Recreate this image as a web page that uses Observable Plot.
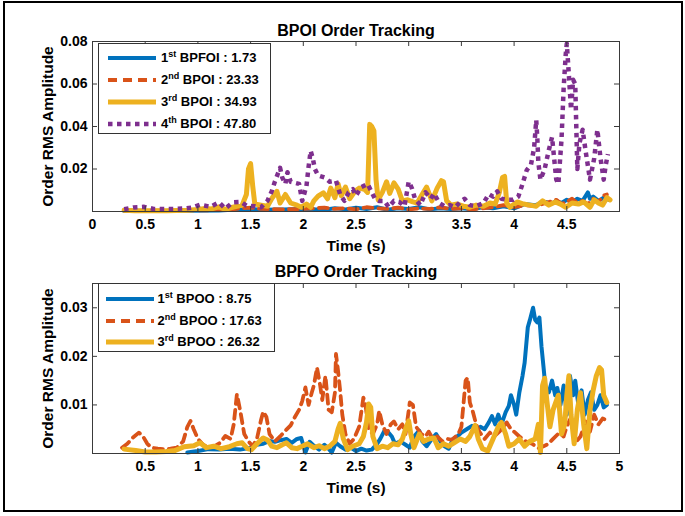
<!DOCTYPE html>
<html>
<head>
<meta charset="utf-8">
<script src="https://cdn.jsdelivr.net/npm/d3@7"></script>
<script src="https://cdn.jsdelivr.net/npm/@observablehq/plot@0.6"></script>
<style>
  body { margin: 0; background: #fff; }
  #wrap { position: relative; width: 685px; height: 516px; background: #fff; overflow: hidden;
          font-family: 'Liberation Sans', Arial, Helvetica, sans-serif; font-weight: bold; color: #000; }
  .legend { position: absolute; background: #fff; border: 1px solid #333; box-sizing: border-box; }
  .row { position: absolute; left: 0; height: 22px; white-space: nowrap; }
  .row svg { position: absolute; top: 0; }
  .row span { position: absolute; top: 3px; font-size: 13px; line-height: 16px; }
  .row sup { font-size: 9px; vertical-align: 5px; line-height: 0; }
  #border { position: absolute; left: 3px; top: 1px; width: 680px; height: 511px; border: 2px solid #000; box-sizing: border-box; }
</style>
</head>
<body>
<div id="wrap"><div id="border"></div></div>
<script>
// ---------- Data (time in s, order RMS amplitude) ----------
// Top panel: BPOI order tracking
const bpoi1 = [[0.30,0.0003],[0.6,0.0002],[0.9,0.0003],[1.2,0.0005],[1.4,0.0010],[1.5,0.0012],[1.6,0.0008],[1.8,0.0010],[2.0,0.0012],[2.2,0.0008],[2.3,0.0015],[2.4,0.0010],[2.5,0.0018],[2.6,0.0012],[2.7,0.0020],[2.8,0.0008],[2.9,0.0015],[3.0,0.0012],[3.1,0.0020],[3.2,0.0010],[3.3,0.0015],[3.4,0.0012],[3.5,0.0015],[3.6,0.0010],[3.7,0.0020],[3.8,0.0015],[3.9,0.0025],[4.0,0.0015],[4.1,0.0035],[4.2,0.0030],[4.3,0.0045],[4.35,0.0035],[4.4,0.0050],[4.45,0.0040],[4.5,0.0055],[4.55,0.0045],[4.6,0.0060],[4.65,0.0050],[4.7,0.0090],[4.72,0.0060],[4.75,0.0070],[4.8,0.0050],[4.85,0.0065],[4.9,0.0055]];
const bpoi2 = [[0.30,0.0004],[0.5,0.0003],[0.7,0.0004],[0.9,0.0005],[1.1,0.0006],[1.3,0.0008],[1.4,0.0015],[1.5,0.0018],[1.6,0.0012],[1.8,0.0010],[2.0,0.0012],[2.2,0.0018],[2.3,0.0012],[2.4,0.0015],[2.5,0.0010],[2.6,0.0020],[2.7,0.0015],[2.8,0.0012],[2.9,0.0018],[3.0,0.0010],[3.1,0.0015],[3.2,0.0012],[3.3,0.0020],[3.4,0.0012],[3.5,0.0015],[3.6,0.0010],[3.7,0.0015],[3.8,0.0020],[3.9,0.0030],[4.0,0.0020],[4.1,0.0030],[4.2,0.0025],[4.3,0.0040],[4.4,0.0055],[4.45,0.0035],[4.5,0.0045],[4.55,0.0060],[4.6,0.0040],[4.65,0.0050],[4.7,0.0035],[4.75,0.0060],[4.8,0.0045],[4.85,0.0075],[4.88,0.0080]];
const bpoi3 = [[0.30,0.0006],[0.40,0.0004],[0.50,0.0003],[0.60,0.0003],[0.70,0.0004],[0.80,0.0005],[0.90,0.0006],[1.00,0.0010],[1.07,0.0014],[1.13,0.0012],[1.20,0.0022],[1.26,0.0010],[1.33,0.0020],[1.42,0.0030],[1.46,0.0080],[1.48,0.0200],[1.50,0.0225],[1.52,0.0120],[1.54,0.0035],[1.60,0.0030],[1.66,0.0025],[1.70,0.0060],[1.75,0.0095],[1.78,0.0040],[1.83,0.0080],[1.88,0.0040],[1.94,0.0030],[1.98,0.0020],[2.03,0.0035],[2.07,0.0020],[2.10,0.0050],[2.14,0.0072],[2.19,0.0088],[2.23,0.0060],[2.26,0.0110],[2.30,0.0065],[2.33,0.0130],[2.36,0.0075],[2.40,0.0115],[2.44,0.0060],[2.49,0.0095],[2.53,0.0110],[2.58,0.0105],[2.61,0.0090],[2.63,0.0410],[2.65,0.0400],[2.67,0.0380],[2.69,0.0150],[2.71,0.0055],[2.75,0.0090],[2.79,0.0140],[2.82,0.0085],[2.86,0.0135],[2.90,0.0105],[2.94,0.0050],[2.99,0.0055],[3.04,0.0045],[3.08,0.0040],[3.12,0.0074],[3.17,0.0115],[3.22,0.0050],[3.27,0.0110],[3.31,0.0145],[3.33,0.0140],[3.36,0.0050],[3.40,0.0030],[3.46,0.0035],[3.52,0.0025],[3.58,0.0020],[3.64,0.0030],[3.71,0.0025],[3.77,0.0040],[3.82,0.0035],[3.86,0.0090],[3.89,0.0160],[3.91,0.0165],[3.93,0.0040],[3.96,0.0020],[4.03,0.0045],[4.09,0.0035],[4.15,0.0030],[4.21,0.0025],[4.27,0.0050],[4.33,0.0030],[4.39,0.0045],[4.44,0.0035],[4.49,0.0020],[4.55,0.0040],[4.61,0.0035],[4.66,0.0045],[4.72,0.0020],[4.76,0.0055],[4.80,0.0040],[4.84,0.0030],[4.88,0.0065],[4.91,0.0055]];
const bpoi4 = [[0.30,0.0011],[0.39,0.0019],[0.49,0.0022],[0.58,0.0012],[0.68,0.0012],[0.77,0.0012],[0.87,0.0014],[0.95,0.0019],[1.02,0.0032],[1.12,0.0022],[1.20,0.0043],[1.26,0.0014],[1.33,0.0043],[1.41,0.0045],[1.46,0.0028],[1.54,0.0025],[1.60,0.0020],[1.66,0.0050],[1.70,0.0095],[1.73,0.0140],[1.76,0.0180],[1.78,0.0205],[1.80,0.0160],[1.83,0.0130],[1.85,0.0185],[1.88,0.0140],[1.92,0.0135],[1.96,0.0130],[1.99,0.0050],[2.03,0.0120],[2.05,0.0210],[2.07,0.0285],[2.09,0.0250],[2.11,0.0200],[2.14,0.0170],[2.20,0.0160],[2.25,0.0140],[2.31,0.0145],[2.35,0.0080],[2.39,0.0050],[2.43,0.0090],[2.47,0.0105],[2.50,0.0075],[2.55,0.0115],[2.61,0.0130],[2.65,0.0090],[2.68,0.0060],[2.72,0.0050],[2.77,0.0050],[2.81,0.0020],[2.86,0.0050],[2.91,0.0045],[2.96,0.0025],[3.00,0.0140],[3.03,0.0110],[3.06,0.0060],[3.11,0.0030],[3.16,0.0090],[3.21,0.0060],[3.24,0.0085],[3.29,0.0040],[3.34,0.0025],[3.39,0.0030],[3.44,0.0020],[3.49,0.0045],[3.53,0.0060],[3.58,0.0030],[3.64,0.0025],[3.71,0.0040],[3.76,0.0082],[3.80,0.0070],[3.84,0.0095],[3.88,0.0060],[3.93,0.0055],[3.99,0.0055],[4.04,0.0070],[4.08,0.0130],[4.12,0.0195],[4.16,0.0220],[4.19,0.0300],[4.21,0.0430],[4.22,0.0350],[4.23,0.0230],[4.25,0.0150],[4.29,0.0200],[4.33,0.0290],[4.36,0.0350],[4.38,0.0250],[4.40,0.0150],[4.42,0.0130],[4.45,0.0340],[4.47,0.0580],[4.49,0.0740],[4.50,0.0790],[4.52,0.0640],[4.54,0.0480],[4.56,0.0620],[4.58,0.0600],[4.59,0.0400],[4.60,0.0200],[4.62,0.0320],[4.65,0.0385],[4.68,0.0280],[4.72,0.0150],[4.76,0.0250],[4.79,0.0385],[4.82,0.0250],[4.85,0.0150],[4.87,0.0220],[4.89,0.0270]];

// Bottom panel: BPFO order tracking
const bpoo1 = [[0.90,0.0002],[1.00,0.0005],[1.10,0.0009],[1.20,0.0008],[1.30,0.0010],[1.40,0.0008],[1.50,0.0012],[1.56,0.0018],[1.62,0.0020],[1.68,0.0026],[1.73,0.0024],[1.78,0.0027],[1.84,0.0030],[1.89,0.0022],[1.94,0.0030],[1.98,0.0032],[2.02,0.0002],[2.06,0.0024],[2.10,0.0016],[2.15,0.0008],[2.20,0.0018],[2.24,0.0010],[2.27,0.0002],[2.31,0.0022],[2.35,0.0015],[2.40,0.0008],[2.45,0.0012],[2.50,0.0005],[2.55,0.0010],[2.60,0.0006],[2.65,0.0008],[2.70,0.0020],[2.73,0.0030],[2.77,0.0047],[2.80,0.0045],[2.84,0.0035],[2.87,0.0020],[2.92,0.0025],[2.97,0.0018],[3.01,0.0012],[3.05,0.0035],[3.10,0.0047],[3.13,0.0025],[3.17,0.0015],[3.22,0.0030],[3.26,0.0040],[3.30,0.0025],[3.34,0.0015],[3.38,0.0010],[3.42,0.0030],[3.46,0.0035],[3.50,0.0043],[3.55,0.0050],[3.60,0.0057],[3.64,0.0048],[3.68,0.0055],[3.72,0.0050],[3.76,0.0064],[3.79,0.0077],[3.82,0.0060],[3.85,0.0080],[3.88,0.0060],[3.92,0.0085],[3.95,0.0098],[3.97,0.0120],[4.00,0.0100],[4.02,0.0080],[4.05,0.0126],[4.08,0.0160],[4.10,0.0187],[4.13,0.0260],[4.15,0.0275],[4.18,0.0300],[4.20,0.0275],[4.22,0.0270],[4.24,0.0280],[4.26,0.0220],[4.28,0.0176],[4.30,0.0130],[4.33,0.0126],[4.36,0.0150],[4.39,0.0120],[4.41,0.0135],[4.44,0.0100],[4.47,0.0140],[4.50,0.0080],[4.53,0.0160],[4.56,0.0120],[4.58,0.0150],[4.61,0.0100],[4.64,0.0130],[4.67,0.0080],[4.70,0.0110],[4.73,0.0126],[4.76,0.0090],[4.79,0.0100],[4.82,0.0120],[4.85,0.0095],[4.88,0.0100]];
const bpoo2 = [[0.28,0.0012],[0.33,0.0020],[0.38,0.0032],[0.44,0.0043],[0.48,0.0035],[0.52,0.0020],[0.56,0.0012],[0.62,0.0010],[0.68,0.0009],[0.74,0.0010],[0.80,0.0012],[0.86,0.0025],[0.90,0.0055],[0.93,0.0067],[0.96,0.0050],[1.00,0.0030],[1.05,0.0018],[1.10,0.0012],[1.16,0.0015],[1.21,0.0022],[1.26,0.0036],[1.31,0.0030],[1.34,0.0060],[1.37,0.0122],[1.40,0.0090],[1.44,0.0040],[1.48,0.0025],[1.52,0.0015],[1.56,0.0030],[1.60,0.0070],[1.62,0.0086],[1.65,0.0075],[1.68,0.0040],[1.73,0.0025],[1.78,0.0035],[1.83,0.0047],[1.88,0.0058],[1.92,0.0075],[1.96,0.0090],[1.99,0.0108],[2.02,0.0136],[2.05,0.0100],[2.08,0.0125],[2.10,0.0140],[2.13,0.0177],[2.16,0.0140],[2.18,0.0110],[2.21,0.0160],[2.24,0.0090],[2.27,0.0085],[2.30,0.0125],[2.31,0.0205],[2.33,0.0170],[2.35,0.0128],[2.37,0.0080],[2.40,0.0040],[2.44,0.0020],[2.48,0.0030],[2.53,0.0055],[2.57,0.0115],[2.59,0.0100],[2.62,0.0050],[2.66,0.0040],[2.70,0.0060],[2.72,0.0088],[2.75,0.0060],[2.79,0.0040],[2.83,0.0060],[2.86,0.0066],[2.90,0.0050],[2.94,0.0060],[2.97,0.0040],[3.01,0.0105],[3.04,0.0100],[3.07,0.0055],[3.12,0.0040],[3.16,0.0035],[3.19,0.0045],[3.23,0.0030],[3.27,0.0035],[3.32,0.0025],[3.37,0.0030],[3.41,0.0028],[3.47,0.0040],[3.50,0.0055],[3.54,0.0150],[3.56,0.0156],[3.58,0.0105],[3.61,0.0085],[3.64,0.0060],[3.67,0.0045],[3.72,0.0030],[3.77,0.0043],[3.81,0.0035],[3.86,0.0045],[3.90,0.0055],[3.93,0.0064],[3.97,0.0050],[4.00,0.0045],[4.05,0.0035],[4.11,0.0025],[4.17,0.0020],[4.24,0.0010],[4.28,0.0015],[4.32,0.0019],[4.37,0.0030],[4.43,0.0043],[4.47,0.0035],[4.50,0.0056],[4.53,0.0070],[4.56,0.0050],[4.59,0.0025],[4.63,0.0035],[4.68,0.0066],[4.72,0.0045],[4.76,0.0080],[4.80,0.0060],[4.84,0.0072],[4.88,0.0068]];
const bpoo3 = [[0.30,0.0009],[0.41,0.0006],[0.50,0.0003],[0.60,0.0003],[0.70,0.0004],[0.78,0.0006],[0.87,0.0014],[0.96,0.0016],[1.02,0.0022],[1.08,0.0012],[1.15,0.0015],[1.22,0.0010],[1.30,0.0014],[1.37,0.0020],[1.42,0.0022],[1.47,0.0010],[1.51,0.0008],[1.56,0.0020],[1.62,0.0032],[1.66,0.0028],[1.70,0.0015],[1.75,0.0012],[1.80,0.0018],[1.84,0.0022],[1.89,0.0012],[1.94,0.0010],[1.99,0.0015],[2.04,0.0020],[2.10,0.0012],[2.15,0.0016],[2.20,0.0010],[2.25,0.0015],[2.30,0.0025],[2.33,0.0050],[2.35,0.0062],[2.38,0.0030],[2.42,0.0008],[2.47,0.0015],[2.53,0.0020],[2.57,0.0035],[2.60,0.0065],[2.62,0.0102],[2.64,0.0095],[2.66,0.0035],[2.70,0.0010],[2.75,0.0015],[2.80,0.0012],[2.85,0.0020],[2.90,0.0018],[2.94,0.0030],[2.97,0.0050],[3.00,0.0067],[3.02,0.0040],[3.05,0.0012],[3.10,0.0040],[3.14,0.0025],[3.19,0.0030],[3.24,0.0032],[3.28,0.0012],[3.33,0.0020],[3.38,0.0015],[3.43,0.0022],[3.49,0.0030],[3.54,0.0025],[3.58,0.0035],[3.63,0.0058],[3.66,0.0030],[3.70,0.0010],[3.75,0.0005],[3.80,0.0030],[3.85,0.0055],[3.88,0.0064],[3.92,0.0040],[3.95,0.0015],[4.00,0.0020],[4.05,0.0030],[4.10,0.0015],[4.15,0.0025],[4.20,0.0030],[4.23,0.0060],[4.25,0.0002],[4.27,0.0140],[4.29,0.0155],[4.31,0.0110],[4.34,0.0055],[4.37,0.0090],[4.42,0.0120],[4.45,0.0040],[4.48,0.0060],[4.50,0.0120],[4.52,0.0160],[4.54,0.0080],[4.57,0.0020],[4.60,0.0090],[4.63,0.0125],[4.66,0.0060],[4.69,0.0010],[4.72,0.0090],[4.75,0.0130],[4.78,0.0160],[4.81,0.0177],[4.83,0.0172],[4.85,0.0120],[4.88,0.0105]];

// Ticks
const topXTicks = [0.5, 1, 1.5, 2, 2.5, 3, 3.5, 4, 4.5];
const topXLabels = [0, 0.5, 1, 1.5, 2, 2.5, 3, 3.5, 4, 4.5];
const topYTicks = [0.02, 0.04, 0.06, 0.08];
const botXTicks = [0.5, 1, 1.5, 2, 2.5, 3, 3.5, 4, 4.5];
const botXLabels = [0.5, 1, 1.5, 2, 2.5, 3, 3.5, 4, 4.5, 5];
const botYTicks = [0.01, 0.02, 0.03];

// Legend labels
const topLegend = [
  {ord: "1", sup: "st", name: "BPFOI", val: "1.73"},
  {ord: "2", sup: "nd", name: "BPOI", val: "23.33"},
  {ord: "3", sup: "rd", name: "BPOI", val: "34.93"},
  {ord: "4", sup: "th", name: "BPOI", val: "47.80"}
];
const botLegend = [
  {ord: "1", sup: "st", name: "BPOO", val: "8.75"},
  {ord: "2", sup: "nd", name: "BPOO", val: "17.63"},
  {ord: "3", sup: "rd", name: "BPOO", val: "26.32"}
];

// ---------- Styles ----------
const sBlue = {stroke: "#0072BD", strokeWidth: 4};
const sOrange = {stroke: "#D95319", strokeWidth: 3.8, strokeDasharray: "9,6"};
const sYellow = {stroke: "#EDB120", strokeWidth: 5};
const sPurple = {stroke: "#7E2F8E", strokeWidth: 4.5, strokeDasharray: "4.5,4.5", strokeLinecap: "butt"};

const W = 685, H = 258, ML = 92, MR = 66;
const FW = W - ML - MR;
const FH = 170;
const frameColor = "#3a3a3a";

function panel({series, yDomain, xTicks, xLabels, yTicks, title, mt, mb, titleDy, xlabDy}) {
  const lineOpts = {x: d => d[0], y: d => d[1], strokeLinejoin: "round"};
  return Plot.plot({
    width: W, height: H,
    marginLeft: ML, marginRight: MR, marginTop: mt, marginBottom: mb,
    x: {domain: [0, 5]},
    y: {domain: yDomain},
    style: {fontFamily: "'Liberation Sans', Arial, Helvetica, sans-serif", fontWeight: "bold", fontSize: "14px", background: "transparent", color: "#000", overflow: "visible"},
    marks: [
      ...series.map(([data, st]) => Plot.line(data, {...lineOpts, ...st})),
      Plot.frame({stroke: frameColor}),
      Plot.ruleX(xTicks, {x: d => d, insetTop: FH - 5, stroke: frameColor}),
      Plot.ruleX(xTicks, {x: d => d, insetBottom: FH - 5, stroke: frameColor}),
      Plot.ruleY(yTicks, {y: d => d, insetRight: FW - 5, stroke: frameColor}),
      Plot.ruleY(yTicks, {y: d => d, insetLeft: FW - 5, stroke: frameColor}),
      Plot.axisX({ticks: xLabels, tickSize: 0, tickPadding: 8, tickFormat: d => String(d), label: null, fontWeight: "bold"}),
      Plot.axisY({ticks: yTicks, tickSize: 0, tickPadding: 5, tickFormat: d => d.toFixed(2), label: null, fontWeight: "bold"}),
      Plot.text([title], {frameAnchor: "top", lineAnchor: "middle", textAnchor: "middle", dy: titleDy, fontSize: 16, fontWeight: "bold"}),
      Plot.text(["Time (s)"], {frameAnchor: "bottom", lineAnchor: "middle", textAnchor: "middle", dy: xlabDy, fontSize: 15.5, fontWeight: "bold"}),
      Plot.text(["Order RMS Amplitude"], {frameAnchor: "left", lineAnchor: "middle", textAnchor: "middle", dx: -44, rotate: -90, fontSize: 15.5, fontWeight: "bold"})
    ]
  });
}

const wrap = document.getElementById("wrap");

const topPlot = panel({
  series: [[bpoi1, sBlue], [bpoi2, sOrange], [bpoi3, sYellow], [bpoi4, sPurple]],
  yDomain: [0, 0.08], xTicks: topXTicks, xLabels: topXLabels, yTicks: topYTicks,
  title: "BPOI Order Tracking", mt: 41, mb: 47, titleDy: -11, xlabDy: 35
});
topPlot.style.position = "absolute";
topPlot.style.left = "0px";
topPlot.style.top = "0px";
wrap.appendChild(topPlot);

const botPlot = panel({
  series: [[bpoo1, sBlue], [bpoo2, sOrange], [bpoo3, sYellow]],
  yDomain: [0, 0.035], xTicks: botXTicks, xLabels: botXLabels, yTicks: botYTicks,
  title: "BPFO Order Tracking", mt: 25, mb: 63, titleDy: -12, xlabDy: 35
});
botPlot.style.position = "absolute";
botPlot.style.left = "0px";
botPlot.style.top = "258px";
wrap.appendChild(botPlot);

// ---------- Legends ----------
function legend(items, styles, box, lineX0, lineX1, textX, y0, dyRow) {
  const div = document.createElement("div");
  div.className = "legend";
  Object.assign(div.style, {left: box.x + "px", top: box.y + "px", width: box.w + "px", height: box.h + "px"});
  items.forEach((it, i) => {
    const row = document.createElement("div");
    row.className = "row";
    row.style.top = (y0 + i * dyRow - 11) + "px";
    row.style.width = box.w + "px";
    const st = styles[i];
    const svg = d3.create("svg").attr("width", lineX1 + 2).attr("height", 22).style("left", "0px");
    svg.append("line").attr("x1", lineX0).attr("x2", lineX1).attr("y1", 11).attr("y2", 11)
      .attr("stroke", st.stroke).attr("stroke-width", st.strokeWidth)
      .attr("stroke-dasharray", st.strokeDasharray || null);
    row.appendChild(svg.node());
    const span = document.createElement("span");
    span.style.left = textX + "px";
    span.innerHTML = `${it.ord}<sup>${it.sup}</sup> ${it.name} : ${it.val}`;
    row.appendChild(span);
    div.appendChild(row);
  });
  wrap.appendChild(div);
}

legend(topLegend, [sBlue, sOrange, sYellow, sPurple], {x: 98, y: 43, w: 173, h: 91}, 9, 57, 62, 13.5, 22.2);
legend(botLegend, [sBlue, sOrange, sYellow], {x: 98, y: 283, w: 177, h: 69}, 7, 55, 58.5, 15, 21.7);
</script>
</body>
</html>
